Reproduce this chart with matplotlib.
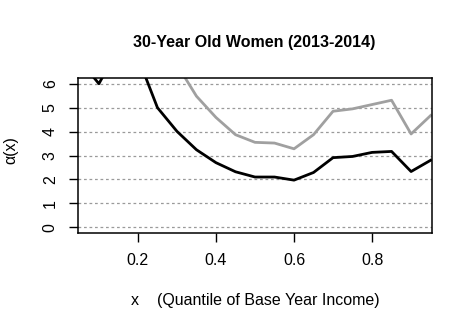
import matplotlib
matplotlib.use("Agg")
import matplotlib.pyplot as plt
import numpy as np

plt.rcParams['font.family'] = ['Liberation Sans', 'DejaVu Sans']

x = [0.05, 0.10, 0.15, 0.20, 0.25, 0.30, 0.35, 0.40, 0.45, 0.50,
     0.55, 0.60, 0.65, 0.70, 0.75, 0.80, 0.85, 0.90, 0.95]
black_vals = [7.0, 6.0, 7.5, 7.1, 5.0, 4.01, 3.24, 2.7, 2.32, 2.1,
              2.1, 1.97, 2.29, 2.91, 2.96, 3.13, 3.17, 2.33, 2.80]
grey_vals = [10.0, 9.5, 9.0, 8.2, 7.6, 6.8, 5.48, 4.59, 3.87, 3.55,
             3.52, 3.28, 3.87, 4.85, 4.95, 5.13, 5.31, 3.90, 4.67]
yticks = [0, 1, 2, 3, 4, 5, 6]
xticks = [0.2, 0.4, 0.6, 0.8]

W, H = 472, 331
fig = plt.figure(figsize=(W / 100, H / 100), dpi=100)
ax = fig.add_axes([78 / W, 1 - 233 / H, (432 - 78) / W, (233 - 78) / H])

for yv in yticks:
    ax.axhline(yv, color='#9a9a9a', linestyle=(0, (2.2, 2.2)), linewidth=0.9, zorder=1)

ax.plot(x, grey_vals, color='#a0a0a0', linewidth=2.0, zorder=2)
ax.plot(x, black_vals, color='black', linewidth=2.0, zorder=3)

ax.set_xlim(0.0464, 0.9536)
ax.set_ylim(-0.24, 6.24)
ax.set_xticks(xticks)
ax.set_xticklabels(['0.2', '0.4', '0.6', '0.8'])
ax.set_yticks(yticks)
ax.set_yticklabels([str(v) for v in yticks], rotation=90, va='center')

ax.tick_params(axis='both', direction='out', length=6.5, width=1.0, labelsize=11.5, colors='black')
ax.tick_params(axis='x', pad=8)
ax.tick_params(axis='y', pad=8)
for s in ax.spines.values():
    s.set_linewidth(1.1)
    s.set_color('black')

fig.text(254 / W, 1 - 42 / H, '30-Year Old Women (2013-2014)', ha='center', va='center',
         fontsize=11.5, fontweight='bold')
fig.text(255 / W, 1 - 301 / H, 'x    (Quantile of Base Year Income)', ha='center', va='center',
         fontsize=11.5)
fig.text(11 / W, 1 - 150 / H, 'α(x)', ha='center', va='center', rotation=90, fontsize=11.5)

fig.savefig('out.png', dpi=100)
